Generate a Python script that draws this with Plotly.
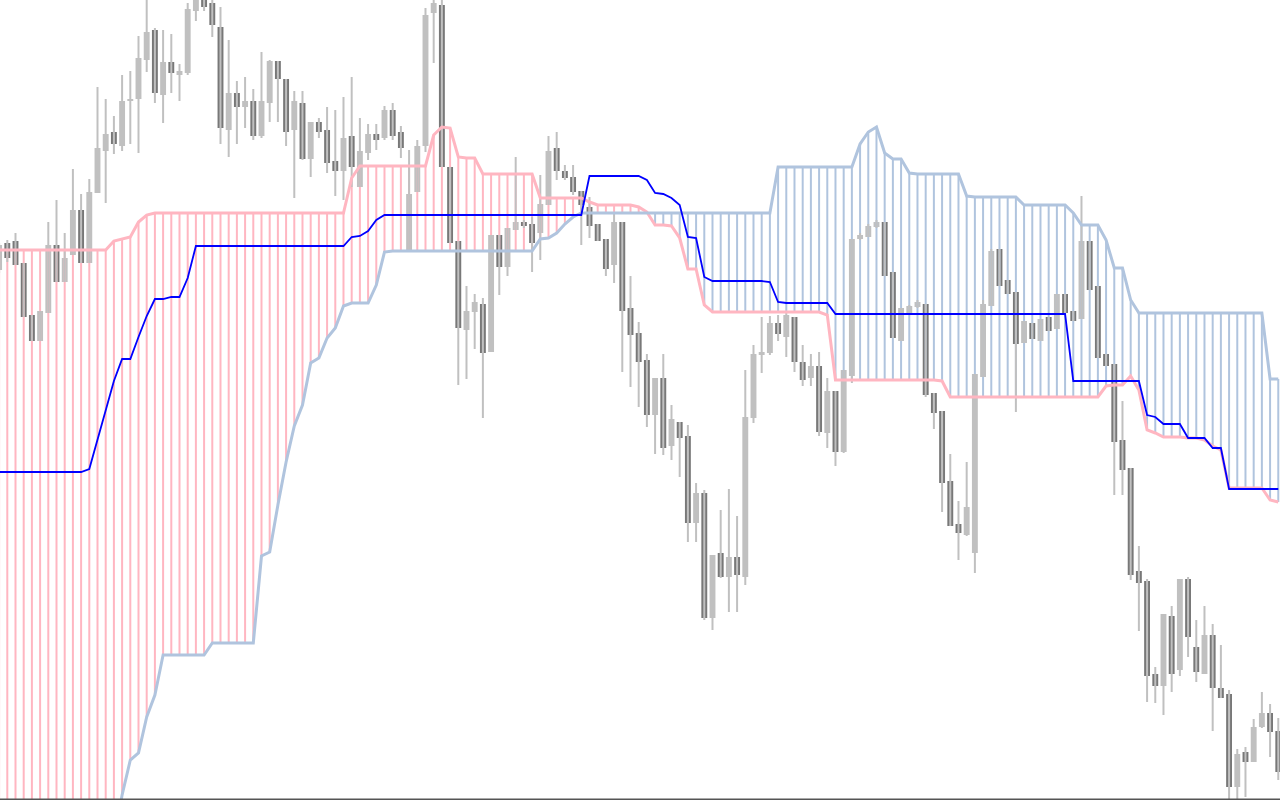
import plotly.graph_objects as go

# bar index (first bar is partially cut at the left edge)
bars = list(range(-1, 156))

open_ = [530,
 557,559,537,485,459,487,555,518,545,590,
 537,607,649,668,654,699,701,740,770,705,
 738,725,727,789,802,797,773,670,707,693,
 699,664,697,739,721,670,697,641,678,670,
 639,629,664,613,647,666,662,690,668,550,
 608,654,787,795,633,559,470,488,496,448,
 565,533,570,578,576,567,595,652,629,623,
 609,593,576,561,535,578,492,467,440,385,
 422,354,378,364,277,307,182,247,223,243,
 223,382,445,447,477,463,483,438,422,434,
 367,409,348,424,561,563,573,578,528,459,
 487,493,496,407,389,319,276,265,247,423,
 494,551,520,508,457,477,459,483,471,506,
 489,481,559,514,446,436,360,332,229,219,
 126,114,184,130,221,153,126,165,112,106,
 13,48,38,73,87,69]

high = [557,
 560,567,537,485,489,578,600,567,631,606,
 621,713,701,684,725,729,764,800,772,770,
 766,736,797,808,806,800,793,760,719,723,
 711,748,740,739,721,709,709,678,682,693,
 690,703,723,682,676,676,694,697,674,650,
 660,792,800,800,633,559,514,506,502,565,
 565,572,643,580,583,625,664,668,635,635,
 609,603,576,561,587,578,524,478,446,422,
 446,395,378,375,317,310,245,290,311,284,
 430,455,483,484,485,487,483,455,446,448,
 422,409,430,561,567,576,580,578,528,492,
 495,500,496,407,389,346,299,338,426,500,
 551,551,520,508,479,477,481,483,506,506,
 489,604,559,514,446,436,399,332,254,221,
 133,186,194,221,223,180,194,176,155,110,
 51,53,81,108,96,82]

low = [527,
 538,535,483,459,459,487,518,518,545,537,
 537,607,597,646,649,656,647,728,697,677,
 707,699,725,779,789,763,656,643,656,672,
 660,662,678,678,654,602,640,623,662,627,
 604,600,613,613,640,650,660,660,642,548,
 608,648,737,633,557,415,421,451,382,448,
 505,524,570,572,528,540,595,620,620,605,
 555,562,559,524,517,428,413,393,373,346,
 345,340,323,258,258,180,170,222,188,188,
 215,377,427,445,459,443,428,414,414,364,
 352,334,347,417,560,563,572,524,462,459,
 486,492,403,371,288,274,240,264,227,423,
 494,514,506,388,457,461,459,469,471,487,
 479,481,510,442,434,305,305,220,169,98,
 97,85,108,124,143,118,126,69,102,-5,
 -5,3,38,72,43,20]

close = [555,
 542,535,483,459,489,555,518,542,590,537,
 608,652,666,656,699,701,742,768,707,738,
 727,729,791,802,793,775,672,707,693,699,
 664,699,739,721,668,699,641,678,668,637,
 629,662,633,649,666,660,690,664,652,606,
 654,785,797,633,557,472,489,498,447,565,
 533,572,578,574,557,596,649,629,622,608,
 595,574,559,531,578,489,465,438,385,422,
 352,381,362,277,307,182,245,223,243,225,
 383,446,448,477,466,485,438,420,434,368,
 409,348,430,561,565,574,578,524,462,492,
 494,498,405,387,317,274,267,293,426,496,
 549,514,506,456,479,461,481,469,506,487,
 479,559,510,442,434,358,330,225,217,124,
 114,186,126,221,163,128,165,112,102,13,
 46,38,73,87,68,28]

span_a = [550,
 550,550,550,550,550,550,550,550,550,550,
 550,550,550,559,561,563,578,585,587,587,
 587,587,587,587,587,587,587,587,587,587,
 587,587,587,587,587,587,587,587,587,587,
 587,587,622,634,634,634,634,634,634,634,
 634,634,665,673,672,643,642,642,626,626,
 626,626,626,626,626,602,602,602,602,602,
 602,598,595,595,595,595,595,593,588,575,
 575,574,562,531,531,495,488,488,488,488,
 488,488,488,488,488,488,488,488,488,488,
 485,420,420,420,420,420,420,420,420,420,
 420,420,420,420,419,403,403,403,403,403,
 403,403,403,403,403,403,403,403,403,403,
 403,403,403,403,414,415,415,424,410,370,
 367,363,363,363,362,362,360,354,350,312,
 312,312,312,312,300,298]

span_b = [-50,
 -50,-50,-50,-50,-50,-50,-50,-50,-50,-50,
 -50,-50,-50,-40,5,40,47,83,105,145,
 145,145,145,145,145,157,157,157,157,157,
 157,244,248,295,338,374,395,437,442,462,
 472,494,497,497,497,515,548,549,549,549,
 549,549,549,549,549,549,549,549,549,549,
 549,549,549,549,549,561,562,567,576,583,
 587,587,587,587,587,587,587,587,587,587,
 587,587,587,587,587,587,587,587,587,587,
 587,587,587,587,633,633,633,633,633,633,
 633,633,633,633,656,668,673,647,641,641,
 627,626,626,626,626,626,626,604,603,603,
 603,603,603,603,595,595,595,595,595,595,
 587,575,575,575,560,532,532,500,487,487,
 487,487,487,487,487,487,487,487,487,487,
 487,487,487,487,421,421]

kijun = [328,
 328,328,328,328,328,328,328,328,328,328,
 331,360,390,419,441,441,463,484,501,501,
 503,503,522,554,554,554,554,554,554,554,
 554,554,554,554,554,554,554,554,554,554,
 554,554,563,564,569,580,585,585,585,585,
 585,585,585,585,585,585,585,585,585,585,
 585,585,585,585,585,585,585,585,585,585,
 585,624,624,624,624,624,624,624,620,607,
 606,602,595,563,562,523,519,519,519,519,
 519,519,519,518,498,497,497,497,497,497,
 497,486,486,486,486,486,486,486,486,486,
 486,486,486,486,486,486,486,486,486,486,
 486,486,486,486,486,486,486,486,486,486,
 419,419,419,419,419,419,419,419,419,385,
 383,376,376,376,362,362,362,352,352,311,
 311,311,311,311,311,311]

PINK = "#FFB6C1"
STEEL = "#B0C4DE"
UP = "#C0C0C0"
DOWN = "#787878"
WICK = "#C0C0C0"

# cloud hatch: vertical segments between span A and span B
hx_a, hy_a, hx_b, hy_b = [], [], [], []
for x, a, b in zip(bars, span_a, span_b):
    if a >= b:
        hx_a += [x, x, None]
        hy_a += [a, b, None]
    else:
        hx_b += [x, x, None]
        hy_b += [a, b, None]

wx, wy = [], []
for x, h, l in zip(bars, high, low):
    wx += [x, x, None]
    wy += [l, h, None]

base = [min(o, c) for o, c in zip(open_, close)]
height = [max(abs(c - o), 1.2) for o, c in zip(open_, close)]
colors = [UP if c >= o else DOWN for o, c in zip(open_, close)]

fig = go.Figure()
fig.add_trace(go.Scatter(x=hx_a, y=hy_a, mode="lines",
                         line=dict(color=PINK, width=2), hoverinfo="skip",
                         showlegend=False))
fig.add_trace(go.Scatter(x=hx_b, y=hy_b, mode="lines",
                         line=dict(color=STEEL, width=2), hoverinfo="skip",
                         showlegend=False))
fig.add_trace(go.Scatter(x=wx, y=wy, mode="lines",
                         line=dict(color=WICK, width=2), hoverinfo="skip",
                         showlegend=False))
fig.add_trace(go.Bar(x=bars, y=height, base=base, width=0.72,
                     marker=dict(color=colors, line=dict(width=0)),
                     showlegend=False))
fig.add_trace(go.Scatter(x=bars, y=span_a, mode="lines", name="Senkou Span A",
                         line=dict(color=PINK, width=3), showlegend=False))
fig.add_trace(go.Scatter(x=bars, y=span_b, mode="lines", name="Senkou Span B",
                         line=dict(color=STEEL, width=3), showlegend=False))
fig.add_trace(go.Scatter(x=bars, y=kijun, mode="lines", name="Kijun-sen",
                         line=dict(color="#0000FF", width=1.8), showlegend=False))

fig.add_shape(type="line", xref="paper", yref="paper", x0=0, x1=1, y0=0.001, y1=0.001,
              line=dict(color="#555555", width=1.5))

fig.update_layout(
    width=1280, height=800,
    margin=dict(l=0, r=0, t=0, b=0),
    paper_bgcolor="white", plot_bgcolor="white",
    barmode="overlay",
    xaxis=dict(range=[-0.89, 155.21], visible=False, fixedrange=True),
    yaxis=dict(range=[0, 800], visible=False, fixedrange=True),
    showlegend=False,
)

fig.write_html("out.html",
               config={"displayModeBar": False},
               post_script="document.body.style.margin='0';document.body.style.overflow='hidden';")
